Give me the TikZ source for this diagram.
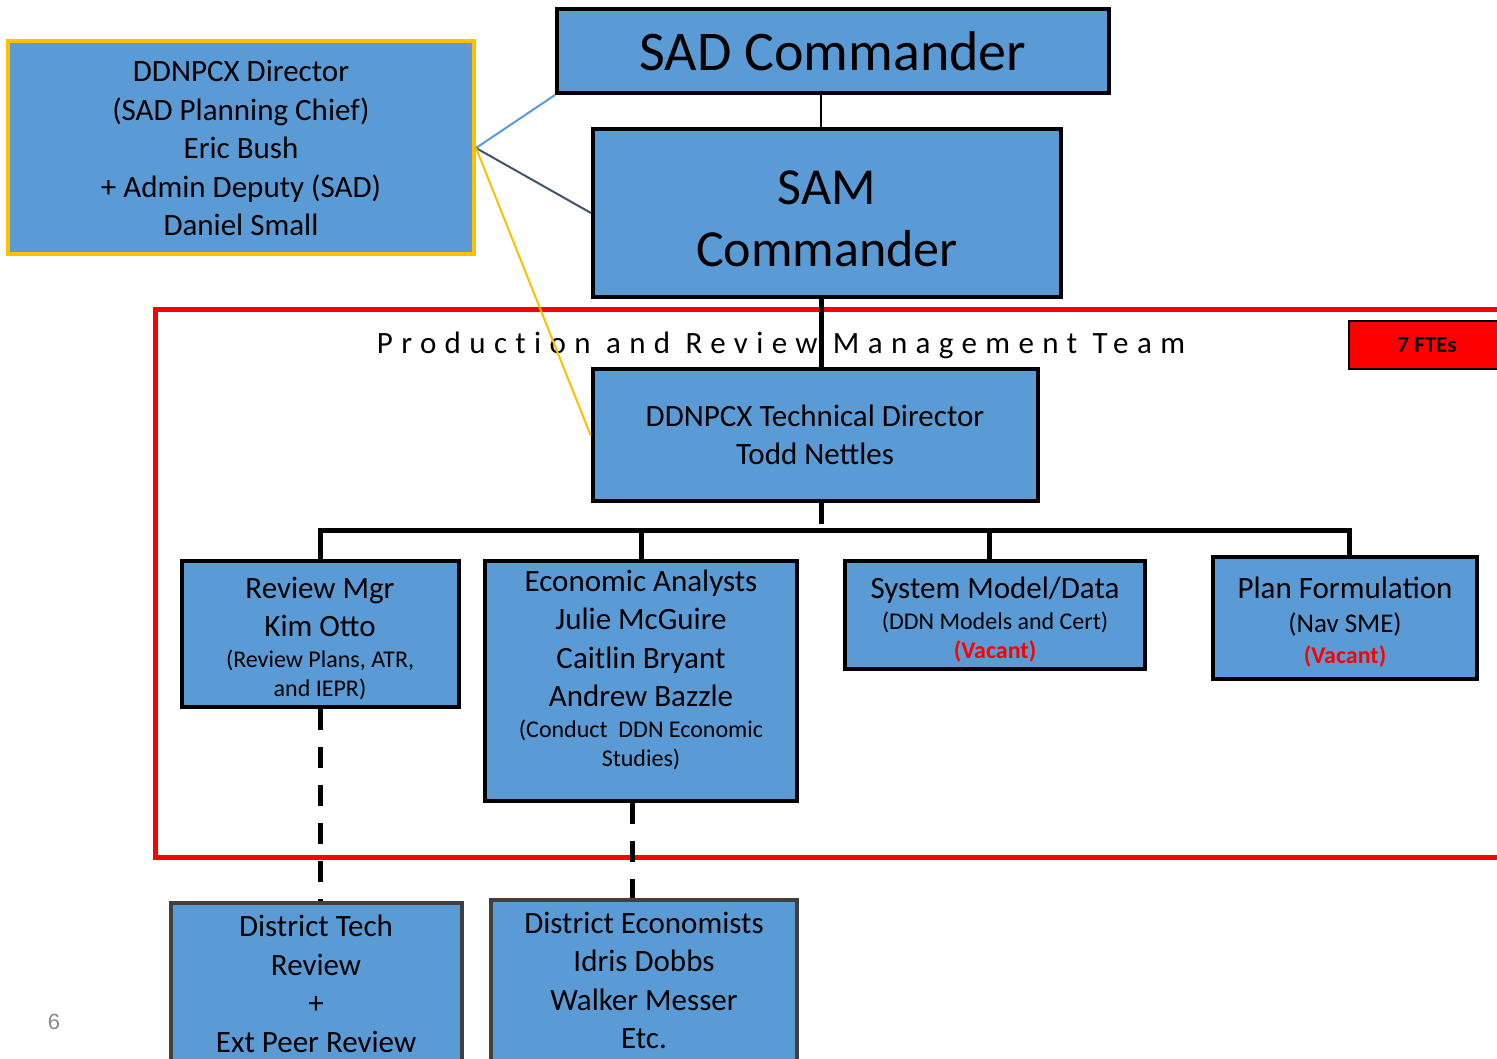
\documentclass[tikz,border=0pt]{standalone}
\usepackage{fontspec}
\setmainfont{Carlito}
\newfontfamily\pagenumfont{Liberation Sans}
\usepackage{xcolor}
\usepackage{tikz}

\definecolor{boxblue}{HTML}{5B9BD5}
\definecolor{gold}{HTML}{FFC000}
\definecolor{slate}{HTML}{44546A}
\definecolor{darkline}{HTML}{404040}
\newcommand{\notefont}{\fontsize{24}{29}\selectfont}
\newcommand{\vacant}{\fontsize{24}{29}\selectfont\bfseries\color{red}(Vacant)}

\begin{document}
\begin{tikzpicture}[x=1pt, y=-1pt,
  every node/.style={align=center, inner sep=0pt, font=\fontsize{31}{38.5}\selectfont},
  box/.style={draw=black, line width=4pt, fill=boxblue},
  bus/.style={line width=5pt},
  dashdrop/.style={line width=5pt, dash pattern=on 21pt off 17pt}]
     \useasboundingbox (0,0) rectangle (1497,1059);
     \clip (0,0) rectangle (1497,1059);
     \fill[white] (0,0) rectangle (1497,1059);

     % team frame, open to the right
     \draw[red, line width=5pt] (155,310) rectangle (1530,857);
     \node (title) at (781,345) {\fontsize{31}{38}\selectfont\addfontfeature{LetterSpace=27,Ligatures=NoCommon}Production and Review Management Team};
     \node[fill=red, draw=black, line width=2pt, minimum width=156, minimum height=48,
           font=\fontsize{23}{28}\selectfont\bfseries] (fte) at (1427,345) {7 FTEs};

     \node[box, minimum width=552, minimum height=84, font=\fontsize{56}{62}\selectfont] (sad) at (833,51) {SAD Commander};
     \node[box, minimum width=468, minimum height=168] (sam) at (827,213) {};
     \node[font=\fontsize{52}{62}\selectfont] (samtext) at (827,218.5) {SAM\\Commander};
     \node[box, draw=gold, minimum width=466, minimum height=213] (dir) at (241,148) {DDNPCX Director\\(SAD Planning Chief)\\Eric Bush\\+ Admin Deputy (SAD)\\Daniel Small};
     \node[box, minimum width=445, minimum height=132] (tech) at (815,435) {DDNPCX Technical Director\\Todd Nettles};

     % second row
     \node[box, minimum width=277, minimum height=146] (rev) at (320,634) {};
     \node (revtext) at (320,638.5) {Review Mgr\\[-0.5pt]Kim Otto\\[-7.5pt]\notefont(Review Plans, ATR,\\[-9.5pt]\notefont and IEPR)};
     \node[box, minimum width=312, minimum height=240] (econ) at (641,681) {};
     \node (econtext) at (641,670) {Economic Analysts\\Julie McGuire\\Caitlin Bryant\\Andrew Bazzle\\[-7.5pt]\notefont(Conduct\ \ DDN Economic\\[-9.5pt]\notefont Studies)};
     \node[box, minimum width=300, minimum height=108] (sys) at (995,615) {};
     \node (systext) at (995,620) {System Model/Data\\[-7.5pt]\notefont(DDN Models and Cert)\\[-9.5pt]\vacant};
     \node[box, minimum width=264, minimum height=122] (plan) at (1345,618) {};
     \node (plantext) at (1345,622) {Plan Formulation\\[-4.5pt]\fontsize{27}{32}\selectfont(Nav SME)\\[-7.5pt]\vacant};

     % district boxes below the frame
     \node[box, draw=darkline, minimum width=291, minimum height=162, anchor=north] (dtr) at (316,901) {District Tech\\Review\\+\\Ext Peer Review};
     \node[box, draw=darkline, minimum width=306, minimum height=161, anchor=north] (dec) at (644,898) {District Economists\\Idris Dobbs\\Walker Messer\\Etc.};

     \node[text=black!46, font=\pagenumfont\fontsize{22}{26}\selectfont] (pagenum) at (54,1022) {6};

     \draw[boxblue, line width=2pt] (dir.east) -- (sad.south west);
     \draw[slate, line width=2pt] (dir.east) -- (sam.west);
     \draw[gold, line width=2pt] (dir.east) -- (tech.west);

     \coordinate (spine) at (821,530);
     \draw[line width=2pt] (sad.south -| spine) -- (sam.north -| spine);
     \draw[bus] (sam.south -| spine) -- (tech.north -| spine);
     \draw[bus] (tech.south -| spine) -- ([yshift=6pt]spine);
     \draw[bus] ([xshift=-2.5pt]rev.north |- spine) -- ([xshift=6.5pt]plan.north |- spine);
     \draw[bus] (rev.north |- spine) -- (rev.north);
     \draw[bus] (econ.north |- spine) -- (econ.north);
     \draw[bus] ([xshift=-6pt]sys.north |- spine) -- ([xshift=-6pt]sys.north);
     \draw[bus] ([xshift=4pt]plan.north |- spine) -- ([xshift=4pt]plan.north);

     \draw[dashdrop] (rev.south) -- (rev.south |- dtr.north);
     \draw[dashdrop] ([xshift=-9pt]econ.south) -- ([xshift=-9pt]econ.south |- dec.north);
\end{tikzpicture}
\end{document}
